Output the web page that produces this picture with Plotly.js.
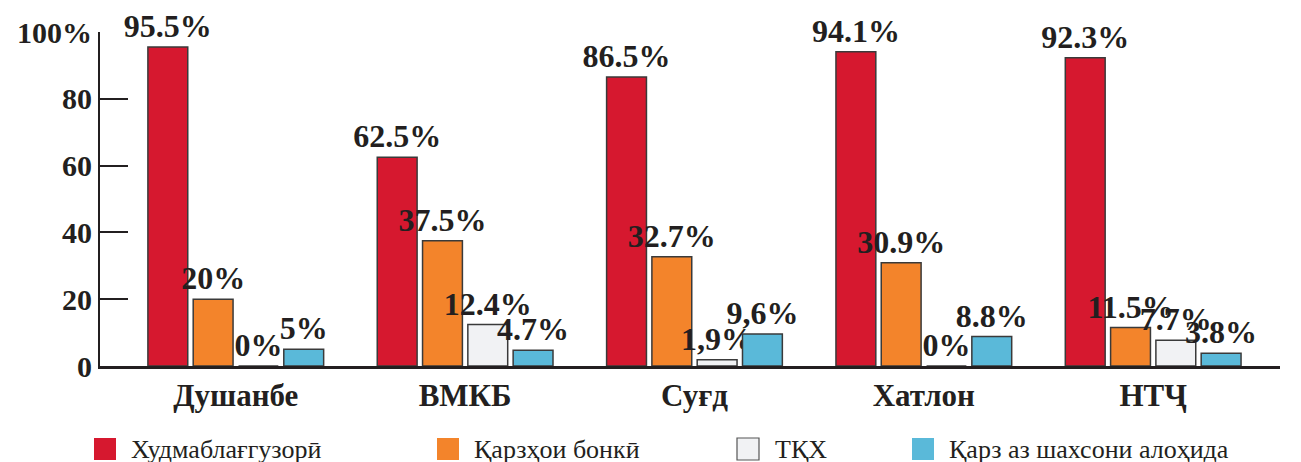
<!DOCTYPE html>
<html><head><meta charset="utf-8">
<style>
body{margin:0;padding:0;font-family:"Liberation Serif";}
.pre{position:absolute;left:0;top:0;opacity:0;font-family:"Liberation Serif";font-size:20px;}
</style>
</head><body>
<span class="pre">&nbsp;</span><span class="pre" style="font-weight:bold">&nbsp;</span>
<div id="chart"></div>
<script src="https://cdn.plot.ly/plotly-3.0.1.min.js"></script>
<script>
// ---- data ----
const categories = ["Душанбе", "ВМКБ", "Суғд", "Хатлон", "НТҶ"];
const seriesNames = ["Худмаблағгузорӣ", "Қарзҳои бонкӣ", "ТҚХ", "Қарз аз шахсони алоҳида"];
const selfFinancing = [95.5, 62.5, 86.5, 94.1, 92.3];
const bankLoans = [20, 37.5, 32.7, 30.9, 11.5];
const microfinance = [0, 12.4, 1.9, 0, 7.7];
const privateLoans = [5, 4.7, 9.6, 8.8, 3.8];
const selfFinancingLabels = ["95.5%", "62.5%", "86.5%", "94.1%", "92.3%"];
const bankLoansLabels = ["20%", "37.5%", "32.7%", "30.9%", "11.5%"];
const microfinanceLabels = ["0%", "12.4%", "1,9%", "0%", "7.7%"];
const privateLoansLabels = ["5%", "4.7%", "9,6%", "8.8%", "3.8%"];
const yTickValues = [0, 20, 40, 60, 80, 100];
const yTickLabels = ["0", "20", "40", "60", "80", "100%"];

// ---- styles ----
const colors = ["#d6182f", "#f3842b", "#f1f2f4", "#5ab9d9"];
const FONT = "Liberation Serif";
const textColor = "#231f20";

const values = [selfFinancing, bankLoans, microfinance, privateLoans];
const labels = [selfFinancingLabels, bankLoansLabels, microfinanceLabels, privateLoansLabels];

const traces = values.map((v, i) => ({
  type: "bar",
  name: seriesNames[i],
  x: categories,
  y: v,
  text: labels[i],
  textposition: "outside",
  constraintext: "none",
  cliponaxis: false,
  textfont: {family: FONT, size: 32, weight: "bold", color: textColor},
  marker: {color: colors[i], line: {color: "#3a3a3a", width: 1.5}},
  showlegend: false
}));

// custom legend (pixel layout converted to paper coords)
const L = 100, R = 1280, B = 366, T = 32;
const px = x => (x - L) / (R - L);
const py = y => (B - y) / (B - T);
const markerLeft = [94, 437, 737, 912];
const textLeft = [129, 472, 773, 947];
const shapes = [];
const annotations = [];
seriesNames.forEach((n, i) => {
  shapes.push({
    type: "rect", xref: "paper", yref: "paper",
    x0: px(markerLeft[i]), x1: px(markerLeft[i] + 22),
    y0: py(460), y1: py(438),
    fillcolor: colors[i],
    line: {color: i === 2 ? "#555" : colors[i], width: i === 2 ? 1.2 : 0}
  });
  annotations.push({
    xref: "paper", yref: "paper",
    x: px(textLeft[i]), y: py(449),
    xanchor: "left", yanchor: "middle",
    text: n, showarrow: false,
    font: {family: FONT, size: 26, color: textColor}
  });
});

const layout = {
  width: 1301, height: 462,
  font: {family: FONT, color: textColor},
  margin: {l: L, r: 1301 - R, t: T, b: 462 - B},
  paper_bgcolor: "#fff", plot_bgcolor: "#fff",
  barmode: "group",
  bargap: 0.21,
  bargroupgap: 0.12,
  xaxis: {
    type: "category",
    range: [-0.592, 4.553],
    showline: true, linecolor: "#231f20", linewidth: 3,
    ticks: "", showgrid: false, zeroline: false,
    tickfont: {family: FONT, size: 31, weight: "bold", color: textColor}
  },
  yaxis: {
    range: [0, 100],
    tickvals: yTickValues, ticktext: yTickLabels,
    ticks: "inside", ticklen: 28, tickwidth: 2, tickcolor: "#231f20",
    showline: true, linecolor: "#231f20", linewidth: 2,
    showgrid: false, zeroline: false,
    tickfont: {family: FONT, size: 30, weight: "bold", color: textColor}
  },
  shapes: shapes,
  annotations: annotations,
  showlegend: false
};

Plotly.newPlot("chart", traces, layout, {displayModeBar: false});
</script></body></html>
